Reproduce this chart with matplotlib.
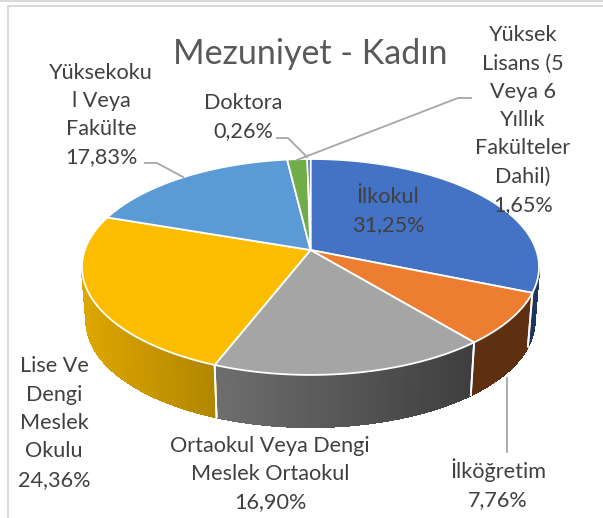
import numpy as np
import matplotlib
matplotlib.use('Agg')
import matplotlib.pyplot as plt
from matplotlib.collections import PolyCollection
from matplotlib.colors import to_rgb

# Data
categories = ['İlkokul', 'İlköğretim', 'Ortaokul Veya Dengi\nMeslek Ortaokul', 'Lise Ve\nDengi\nMeslek\nOkulu',
              'Yüksekoku\nl Veya\nFakülte', 'Yüksek\nLisans (5\nVeya 6\nYıllık\nFakülteler\nDahil)', 'Doktora']
values = [31.25, 7.76, 16.90, 24.36, 17.83, 1.65, 0.26]
value_labels = ['31,25%', '7,76%', '16,90%', '24,36%', '17,83%', '1,65%', '0,26%']
top_colors = ['#4472C4', '#ED7D31', '#A5A5A5', '#FCBD00', '#5B9BD5', '#70AD47', '#264478']
side_left = ['#1E3562', '#5F2F12', '#6E6E6E', '#DDA600', '#2E5F8A', '#38582A', '#132240']
side_right = ['#1E3562', '#5F2F12', '#3E3E3E', '#B08500', '#2E5F8A', '#38582A', '#132240']

# label centres in pixels
label_x = [388, 498, 270, 54, 101, 523, 243]
label_y = [211, 484, 474, 423, 115, 120, 117]

# leader lines in pixels
leaders = [
    ([145, 157, 183], [163, 163, 177]),
    ([277, 288, 307], [138, 138, 157]),
    ([471, 458, 297], [98, 98, 160]),
    ([507, 507], [378, 452]),
]

# Pie geometry (perspective view of a circle)
cx, cy = 310.5, 250
A, B, k = 225.7, 105.3, 0.157
wall_scale, wall_drop = 0.98, 54.5


def rim(theta, scale=1.0, drop=0.0):
    # theta is clockwise from 12 o'clock, in radians
    u, v = np.sin(theta), np.cos(theta)
    w = 1 + k * v
    return cx + scale * A * u / w, cy - scale * B * v / w + drop


fig = plt.figure(figsize=(6.03, 5.18), dpi=100)
plt.rcParams['font.family'] = ['Lato', 'DejaVu Sans']
ax = fig.add_axes([0, 0, 1, 1])
ax.set_xlim(0, 603)
ax.set_ylim(518, 0)
ax.axis('off')

# picture border of the screenshot
ax.plot([8, 8], [6, 518], color='#D9D9D9', lw=1.5)
ax.plot([8, 603], [6, 6], color='#D9D9D9', lw=1.5)
ax.plot([0, 603], [0.5, 0.5], color='#D9D9D9', lw=1.5)

edges = np.radians(np.cumsum([0] + values) * 360 / sum(values))
front_start = np.arccos(-k)
front_end = 2 * np.pi - front_start

# Walls first
for i in range(len(values)):
    t0, t1 = max(edges[i], front_start), min(edges[i + 1], front_end)
    if t1 <= t0:
        continue
    th = np.linspace(t0, t1, 80)
    x_top, y_top = rim(th)
    x_bot, y_bot = rim(th, wall_scale, wall_drop)
    quads = []
    cols = []
    left, right = np.array(to_rgb(side_left[i])), np.array(to_rgb(side_right[i]))
    x_min, x_max = min(x_top.min(), x_bot.min()), max(x_top.max(), x_bot.max())
    for j in range(len(th) - 1):
        quads.append([(x_top[j], y_top[j]), (x_top[j + 1], y_top[j + 1]),
                      (x_bot[j + 1], y_bot[j + 1]), (x_bot[j], y_bot[j])])
        f = ((x_top[j] + x_top[j + 1]) / 2 - x_min) / (x_max - x_min)
        cols.append(left + (right - left) * f)
    ax.add_collection(PolyCollection(quads, facecolors=cols, edgecolors=cols, linewidths=1.0,
                                     antialiaseds=False, zorder=2))
    # white dividers between the walls
    for n in [0, -1]:
        if th[n] not in (front_start, front_end):
            ax.plot([x_top[n], x_bot[n]], [y_top[n], y_bot[n]], color='white', lw=1.3, zorder=3)

# Top faces
for i in range(len(values)):
    th = np.linspace(edges[i], edges[i + 1], 120)
    x_arc, y_arc = rim(th)
    ax.fill(np.r_[cx, x_arc], np.r_[cy, y_arc], facecolor=top_colors[i], edgecolor='white', lw=1.3,
            joinstyle='round', zorder=4)

# Leader lines
for lx, ly in leaders:
    ax.plot(lx, ly, color='#A6A6A6', lw=1.3, zorder=5)

# Labels
for i in range(len(values)):
    ax.text(label_x[i], label_y[i], categories[i] + '\n' + value_labels[i], ha='center', va='center',
            multialignment='center', fontsize=15.6, color='#404040', linespacing=1.52, zorder=6)

ax.text(310, 54, 'Mezuniyet - Kadın', ha='center', va='center', fontsize=24.5, color='#595959', zorder=6)

fig.savefig('out.png', dpi=100)
